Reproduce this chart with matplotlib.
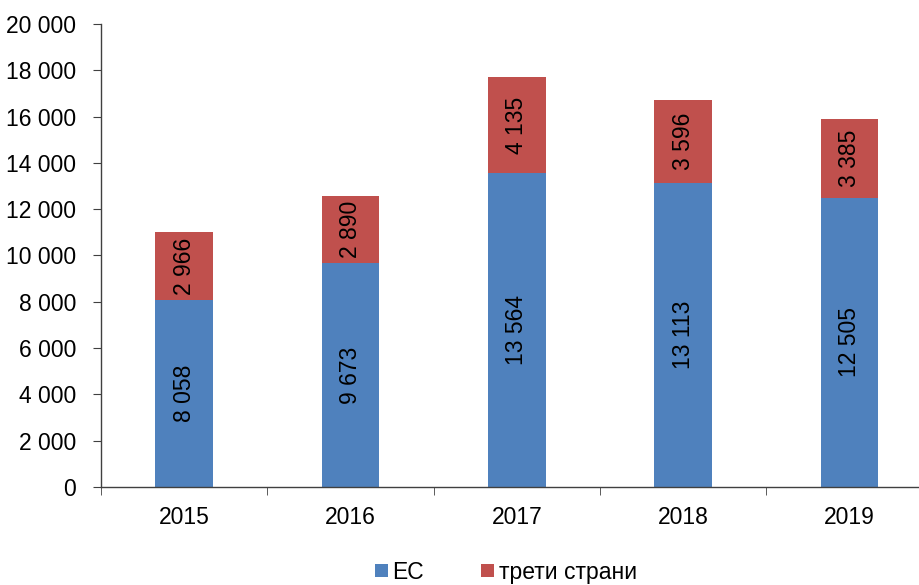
import matplotlib.pyplot as plt
import numpy as np

plt.rcParams['font.family'] = ['Liberation Sans', 'DejaVu Sans']

years = ['2015', '2016', '2017', '2018', '2019']
eu = [8058, 9673, 13564, 13113, 12505]
third = [2966, 2890, 4135, 3596, 3385]
y_ticks = list(range(0, 20001, 2000))

blue = '#4F81BD'
red = '#C0504D'
fs = 16.5


def fmt(v):
    return f"{v:,}".replace(",", " ")


fig = plt.figure(figsize=(9.2, 5.85), dpi=100)
ax = fig.add_axes([0.1098, 0.1675, 0.904, 0.7915])

x = np.arange(len(years))
b1 = ax.bar(x, eu, width=0.345, color=blue, label='ЕС')
b2 = ax.bar(x, third, width=0.345, bottom=eu, color=red, label='трети страни')

for bars, vals, base in ((b1, eu, [0] * len(eu)), (b2, third, eu)):
    for rect, v, b in zip(bars, vals, base):
        ax.text(rect.get_x() + rect.get_width() / 2, b + v / 2, fmt(v),
                rotation=90, ha='center', va='center', fontsize=fs)

ax.set_xlim(-0.5, len(years) - 0.5)
ax.set_ylim(0, 20000)
ax.set_yticks(y_ticks)
ax.set_yticklabels([fmt(v) for v in y_ticks], fontsize=fs)
ax.set_xticks(x)
ax.set_xticklabels(years, fontsize=fs)
ax.set_xticks(np.arange(len(years) + 1) - 0.5, minor=True)
ax.tick_params(axis='x', which='major', length=0, pad=14)
ax.tick_params(axis='x', which='minor', length=6, direction='out',
               color='#404040')
ax.tick_params(axis='y', length=6, direction='out', color='#404040', pad=12)

for s in ('top', 'right'):
    ax.spines[s].set_visible(False)
for s in ('left', 'bottom'):
    ax.spines[s].set_color('#404040')
    ax.spines[s].set_linewidth(1)

fig.legend(handles=[b1, b2], loc='center', bbox_to_anchor=(0.55, 0.022),
           ncol=2, frameon=False, fontsize=fs, handlelength=0.55,
           handleheight=0.55, handletextpad=0.2, columnspacing=2.5)

fig.savefig('out.png', dpi=100)
